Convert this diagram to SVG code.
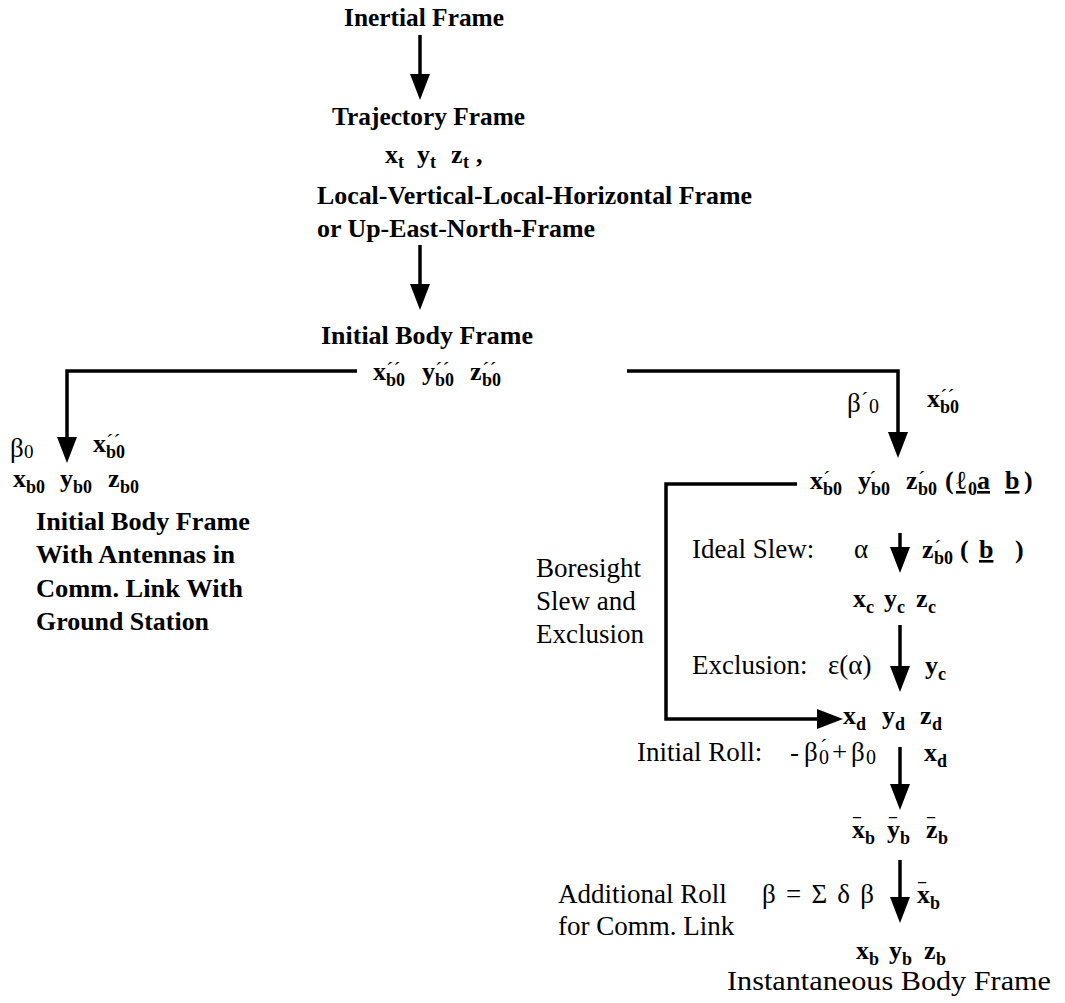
<svg xmlns="http://www.w3.org/2000/svg" width="1065" height="1003" viewBox="0 0 1065 1003">
  <style>
    .h { font: bold 26px "Liberation Serif", "DejaVu Serif", serif; fill: #000; }
    .r { font: 27px "Liberation Serif", "DejaVu Serif", serif; fill: #000; }
    .v { font: bold 26px "Liberation Serif", "DejaVu Serif", serif; fill: #000; }
    .s { font: bold 18px "Liberation Serif", "DejaVu Serif", serif; fill: #000; }
    .p { font: 22px "Liberation Serif", "DejaVu Serif", serif; fill: #000; }
    .m { font: bold 16px "Liberation Serif", "DejaVu Serif", serif; fill: #000; }
    .u { text-decoration: underline; }
    .wire { fill: none; stroke: #000; stroke-width: 3.5; }
  </style>
  <defs>
    <marker id="head" viewBox="0 0 26 20" refX="14" refY="10" markerWidth="26" markerHeight="20" markerUnits="userSpaceOnUse" orient="auto">
      <path d="M0,0 L26,10 L0,20 Z" fill="#000"/>
    </marker>
  </defs>

  <!-- connectors -->
  <g id="connectors" class="wire" marker-end="url(#head)">
    <path d="M420,35 V88"/>
    <path d="M420,245 V298"/>
    <path d="M357,371 H67 V451"/>
    <path d="M627,371 H898 V446"/>
    <path d="M797,484 H666 V719 H831"/>
    <path d="M900,533 V561"/>
    <path d="M900,625 V680"/>
    <path d="M900,747 V798"/>
    <path d="M900,860 V911"/>
  </g>

  <g id="inertial">
    <text class="h" x="344" y="26" textLength="160" lengthAdjust="spacingAndGlyphs">Inertial Frame</text>
  </g>

  <g id="trajectory">
    <text class="h" x="332" y="125" textLength="193" lengthAdjust="spacingAndGlyphs">Trajectory Frame</text>
    <text class="v"><tspan x="385" y="163">x</tspan><tspan class="s" x="398" y="168">t</tspan><tspan x="417" y="163">y</tspan><tspan class="s" x="430" y="168">t</tspan><tspan x="451" y="163">z</tspan><tspan class="s" x="463" y="168">t</tspan><tspan x="476" y="163">,</tspan></text>
    <text class="h" x="317" y="204" textLength="435" lengthAdjust="spacingAndGlyphs">Local-Vertical-Local-Horizontal Frame</text>
    <text class="h" x="317" y="237" textLength="278" lengthAdjust="spacingAndGlyphs">or Up-East-North-Frame</text>
  </g>

  <g id="initial-body">
    <text class="h" x="321" y="344" textLength="212" lengthAdjust="spacingAndGlyphs">Initial Body Frame</text>
    <text class="v"><tspan x="373" y="380">x</tspan><tspan class="s" x="386" y="386">b0</tspan><tspan x="422" y="380">y</tspan><tspan class="s" x="435" y="386">b0</tspan><tspan x="470" y="380">z</tspan><tspan class="s" x="482" y="386">b0</tspan></text>
    <text class="p"><tspan x="386" y="377">´´</tspan><tspan x="435" y="377">´´</tspan><tspan x="482" y="377">´´</tspan></text>
  </g>

  <g id="ground-link">
    <text class="r" x="10" y="457">β</text>
    <text class="r" x="24" y="458" style="font-size:19px">0</text>
    <text class="v"><tspan x="93" y="452">x</tspan><tspan class="s" x="106" y="458">b0</tspan></text>
    <text class="p" x="106" y="449">´´</text>
    <text class="v"><tspan x="13" y="487">x</tspan><tspan class="s" x="26" y="493">b0</tspan><tspan x="60" y="487">y</tspan><tspan class="s" x="73" y="493">b0</tspan><tspan x="108" y="487">z</tspan><tspan class="s" x="120" y="493">b0</tspan></text>
    <text class="h" x="36" y="530" textLength="214" lengthAdjust="spacingAndGlyphs">Initial Body Frame</text>
    <text class="h" x="36" y="563" textLength="199" lengthAdjust="spacingAndGlyphs">With Antennas in</text>
    <text class="h" x="36" y="597" textLength="207" lengthAdjust="spacingAndGlyphs">Comm. Link With</text>
    <text class="h" x="36" y="630" textLength="173" lengthAdjust="spacingAndGlyphs">Ground Station</text>
  </g>

  <g id="boresight-start">
    <text class="r" x="847" y="412">β</text>
    <text class="p" x="861" y="407">´</text>
    <text class="r" x="869" y="413" style="font-size:20px">0</text>
    <text class="v"><tspan x="927" y="407">x</tspan><tspan class="s" x="940" y="413">b0</tspan></text>
    <text class="p" x="940" y="404">´´</text>
    <text class="v"><tspan x="810" y="489">x</tspan><tspan class="s" x="823" y="495">b0</tspan><tspan x="858" y="489">y</tspan><tspan class="s" x="871" y="495">b0</tspan><tspan x="906" y="489">z</tspan><tspan class="s" x="918" y="495">b0</tspan><tspan x="945" y="489">(</tspan><tspan class="u" x="956" y="489">ℓ</tspan><tspan class="s" x="968" y="495">0</tspan><tspan class="u" x="977" y="489">a</tspan><tspan class="u" x="1005" y="489">b</tspan><tspan x="1024" y="489">)</tspan></text>
    <text class="p"><tspan x="823" y="486">´</tspan><tspan x="869" y="486">´</tspan><tspan x="918" y="486">´</tspan></text>
  </g>

  <g id="boresight-label">
    <text class="r" x="536" y="577">Boresight</text>
    <text class="r" x="536" y="610">Slew and</text>
    <text class="r" x="536" y="643">Exclusion</text>
  </g>

  <g id="ideal-slew">
    <text class="r" x="692" y="558">Ideal Slew:</text>
    <text class="r" x="854" y="558">α</text>
    <text class="v"><tspan x="922" y="558">z</tspan><tspan class="s" x="934" y="564">b0</tspan><tspan x="960" y="558">(</tspan><tspan class="u" x="979" y="558">b</tspan><tspan x="1015" y="558">)</tspan></text>
    <text class="p" x="934" y="555">´</text>
  </g>

  <g id="frame-c">
    <text class="v"><tspan x="853" y="607">x</tspan><tspan class="s" x="866" y="613">c</tspan><tspan x="884" y="607">y</tspan><tspan class="s" x="897" y="613">c</tspan><tspan x="916" y="607">z</tspan><tspan class="s" x="928" y="613">c</tspan></text>
  </g>

  <g id="exclusion">
    <text class="r" x="692" y="674">Exclusion:</text>
    <text class="r" x="828" y="674">ε(α)</text>
    <text class="v"><tspan x="925" y="674">y</tspan><tspan class="s" x="938" y="680">c</tspan></text>
  </g>

  <g id="frame-d">
    <text class="v"><tspan x="843" y="724">x</tspan><tspan class="s" x="856" y="730">d</tspan><tspan x="882" y="724">y</tspan><tspan class="s" x="895" y="730">d</tspan><tspan x="920" y="724">z</tspan><tspan class="s" x="932" y="730">d</tspan></text>
  </g>

  <g id="initial-roll">
    <text class="r" x="637" y="761">Initial Roll:</text>
    <text class="r"><tspan x="790" y="761">-</tspan><tspan x="804" y="761">β</tspan><tspan style="font-size:20px" x="819" y="764">0</tspan><tspan x="832" y="761">+</tspan><tspan x="851" y="761">β</tspan><tspan style="font-size:20px" x="866" y="764">0</tspan></text>
    <text class="p" x="820" y="754">´</text>
    <text class="v"><tspan x="924" y="761">x</tspan><tspan class="s" x="937" y="767">d</tspan></text>
  </g>

  <g id="frame-bar">
    <text class="v"><tspan x="852" y="838">x</tspan><tspan class="s" x="865" y="844">b</tspan><tspan x="887" y="838">y</tspan><tspan class="s" x="900" y="844">b</tspan><tspan x="926" y="838">z</tspan><tspan class="s" x="938" y="844">b</tspan></text>
    <text class="m"><tspan x="853" y="830">¯</tspan><tspan x="889" y="830">¯</tspan><tspan x="927" y="830">¯</tspan></text>
  </g>

  <g id="additional-roll">
    <text class="r" x="558" y="903">Additional Roll</text>
    <text class="r" x="558" y="935">for Comm. Link</text>
    <text class="r" x="762" y="903" textLength="112" lengthAdjust="spacing">β = Σ δ β</text>
    <text class="v"><tspan x="917" y="903">x</tspan><tspan class="s" x="930" y="909">b</tspan></text>
    <text class="m" x="918" y="895">¯</text>
  </g>

  <g id="instantaneous">
    <text class="v"><tspan x="856" y="959">x</tspan><tspan class="s" x="869" y="965">b</tspan><tspan x="889" y="959">y</tspan><tspan class="s" x="902" y="965">b</tspan><tspan x="924" y="959">z</tspan><tspan class="s" x="936" y="965">b</tspan></text>
    <text class="r" x="727" y="990" textLength="324" lengthAdjust="spacingAndGlyphs">Instantaneous Body Frame</text>
  </g>
</svg>
